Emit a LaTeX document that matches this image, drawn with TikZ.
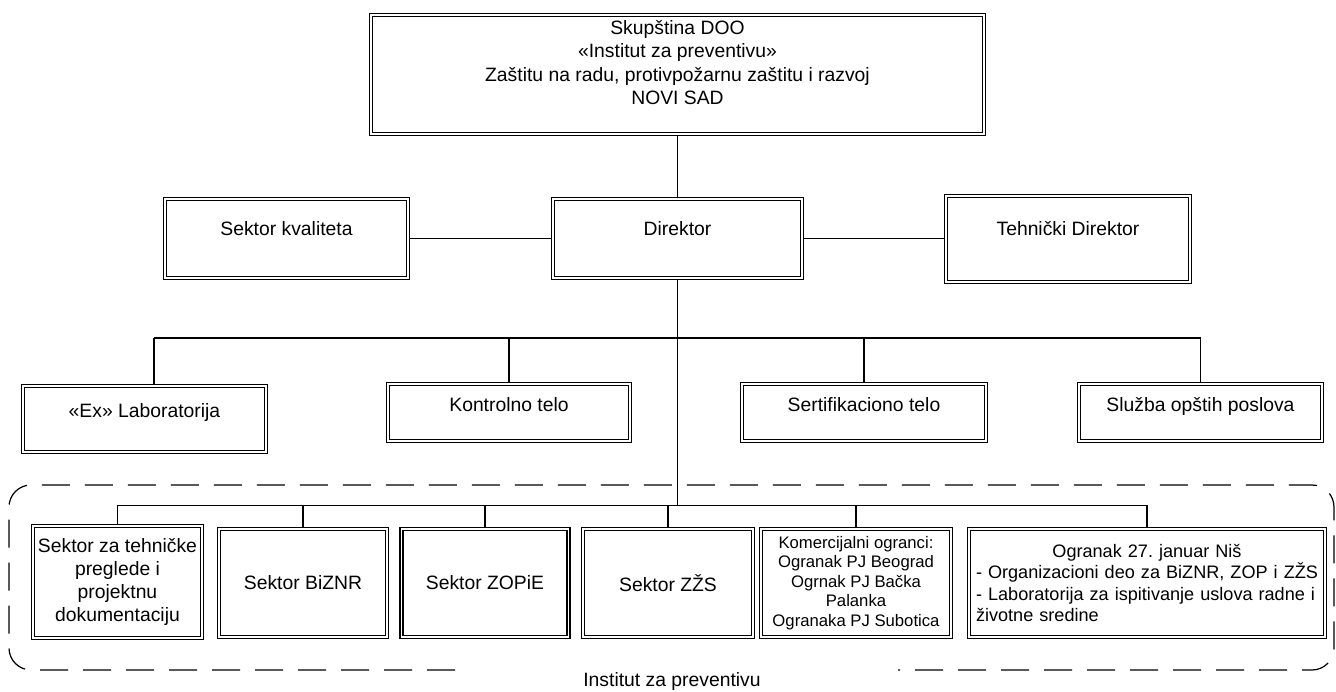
\documentclass[tikz,border=0pt]{standalone}
\usepackage{fontspec}
\setmainfont{Liberation Sans}
\frenchspacing
\begin{document}
\begin{tikzpicture}[
    every node/.style={font=\fontsize{11}{13.2}\selectfont},
    orgbox/.style={draw, double, double distance=1.0pt, line width=0.8pt, outer sep=1.3pt, inner sep=0pt},
    toplabel/.style={anchor=north, inner sep=0pt, align=center, yshift=-#1},
    link/.style={line width=0.8pt},
    frame/.style={line width=0.7pt, dash pattern=on 0.56cm off 0.30cm, rounded corners=0.44cm}
  ]
  \useasboundingbox (0,0) rectangle (26.72,-13.84);

  % okvir instituta
  \draw[frame] (9.10,-13.40) -- (0.18,-13.40) -- (0.18,-9.70) -- (26.68,-9.70) -- (26.68,-13.40) -- (17.96,-13.40);
  \node (inst) at (13.44,-13.64) {Institut za preventivu};

  % vrh
  \node[orgbox, minimum width=12.26cm, minimum height=2.38cm,
        label={[toplabel=0.15cm]north:{Skupština DOO\\«Institut za preventivu»\\Zaštitu na radu, protivpožarnu zaštitu i razvoj\\NOVI SAD}}]
        (skup) at (13.55,-1.49) {};

  % nivo 2
  \node[orgbox, minimum width=4.86cm, minimum height=1.58cm, label={[toplabel=0.48cm]north:Sektor kvaliteta}] (kval) at (5.73,-4.77) {};
  \node[orgbox, minimum width=4.98cm, minimum height=1.58cm, label={[toplabel=0.48cm]north:Direktor}] (dir) at (13.55,-4.77) {};
  \node[orgbox, minimum width=4.88cm, minimum height=1.72cm, label={[toplabel=0.54cm]north:Tehnički Direktor}] (tdir) at (21.36,-4.78) {};

  % nivo 3
  \node[orgbox, minimum width=4.86cm, minimum height=1.32cm, label={[toplabel=0.38cm]north:«Ex» Laboratorija}] (exlab) at (2.89,-8.38) {};
  \node[orgbox, minimum width=4.84cm, minimum height=1.14cm, label={[toplabel=0.30cm]north:Kontrolno telo}] (kontr) at (10.18,-8.25) {};
  \node[orgbox, minimum width=4.88cm, minimum height=1.14cm, label={[toplabel=0.30cm]north:Sertifikaciono telo}] (sert) at (17.28,-8.25) {};
  \node[orgbox, minimum width=4.86cm, minimum height=1.14cm, label={[toplabel=0.30cm]north:Služba opštih poslova}] (sluzba) at (24.01,-8.25) {};

  % nivo 4
  \node[orgbox, minimum width=3.38cm, minimum height=2.24cm, align=center] (sttp) at (2.35,-11.64) {Sektor za tehničke\\preglede i\\projektnu\\dokumentaciju};
  \node[orgbox, minimum width=3.36cm, minimum height=2.16cm] (biznr) at (6.06,-11.66) {Sektor BiZNR};
  \node[orgbox, minimum width=3.34cm, minimum height=2.16cm] (zopie) at (9.70,-11.66) {Sektor ZOPiE};
  \node[orgbox, minimum width=3.40cm, minimum height=2.16cm] (zzs) at (13.36,-11.66) {Sektor ZŽS};
  \node[orgbox, minimum width=3.80cm, minimum height=2.16cm, align=center, font=\fontsize{9.5}{11.1}\selectfont] (kom) at (17.12,-11.66)
        {Komercijalni ogranci:\\Ogranak PJ Beograd\\Ogrnak PJ Bačka\\Palanka\\Ogranaka PJ Subotica};
  \node[orgbox, minimum width=7.12cm, minimum height=2.16cm, inner xsep=0.14cm, text width=6.84cm, align=left, font=\fontsize{10.3}{12.2}\selectfont] (nis) at (22.94,-11.66)
        {\makebox[6.84cm]{Ogranak 27. januar Niš}\\- Organizacioni deo za BiZNR, ZOP i ZŽS\\- Laboratorija za ispitivanje uslova radne i\\životne sredine};

  % veze
  \coordinate (bus3) at (13.55,-6.76);
  \coordinate (bus4) at (13.55,-10.11);
  \draw[link] (skup.south) -- (dir.north);
  \draw[link] (kval.east) -- (dir.west);
  \draw[link] (dir.east) -- (dir.east -| tdir.west);
  \draw[link] (dir.south) -- (bus4);
  \draw[link] ([xshift=0.19cm]exlab.north |- bus3) -- (sluzba.north |- bus3);
  \draw[link] ([xshift=0.19cm]exlab.north) -- ([xshift=0.19cm]exlab.north |- bus3);
  \foreach \n in {kontr,sert,sluzba}
    \draw[link] (\n.north) -- (\n.north |- bus3);
  \draw[link] (sttp.north |- bus4) -- (nis.north |- bus4);
  \foreach \n in {sttp,biznr,zopie,zzs,kom,nis}
    \draw[link] (\n.north) -- (\n.north |- bus4);
\end{tikzpicture}
\end{document}
